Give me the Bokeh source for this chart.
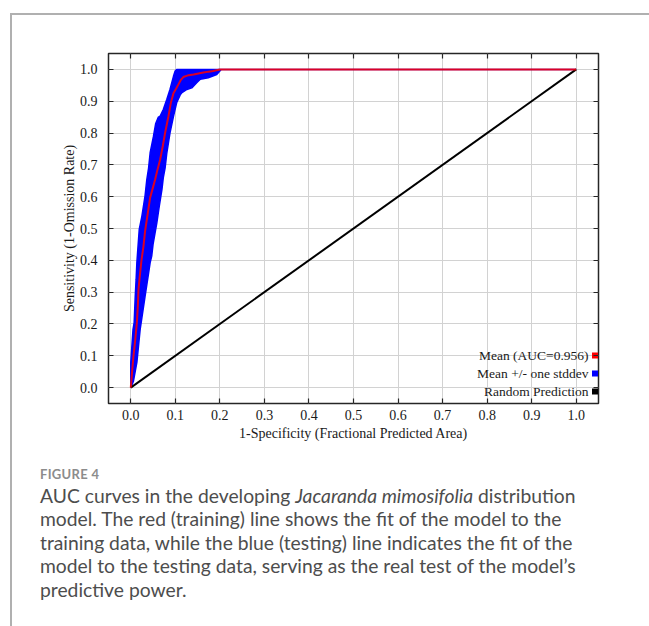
from bokeh.plotting import figure
from bokeh.models import (Range1d, FixedTicker, LinearAxis, Label, PrintfTickFormatter,
                          Spacer, Div)
from bokeh.layouts import column, row
from bokeh.embed import file_html
from bokeh.resources import INLINE

# ---------------- data ----------------
mean_fpr = [0.000, 0.003, 0.006, 0.010, 0.0137, 0.016, 0.0173, 0.0195, 0.024, 0.0285,
            0.032, 0.036, 0.040, 0.0435, 0.050, 0.0547, 0.060, 0.066, 0.072, 0.077,
            0.0846, 0.090, 0.0958, 0.102, 0.107, 0.112, 0.118, 0.130, 0.141, 0.152,
            0.163, 0.175, 0.185, 0.200, 1.000]
mean_tpr = [0.000, 0.050, 0.098, 0.150, 0.204, 0.260, 0.308, 0.340, 0.400, 0.444,
            0.490, 0.528, 0.565, 0.597, 0.630, 0.654, 0.685, 0.717, 0.760, 0.800,
            0.853, 0.895, 0.925, 0.940, 0.953, 0.966, 0.976, 0.982, 0.984, 0.987,
            0.990, 0.993, 0.995, 1.000, 1.000]

# left edge of the +/- one stddev band (upper sensitivity)
upper_fpr = [0.000, 0.000, 0.005, 0.0076, 0.010, 0.012, 0.0137, 0.019, 0.025, 0.032,
             0.036, 0.040, 0.0435, 0.051, 0.056, 0.062, 0.066, 0.073, 0.081, 0.088,
             0.096, 0.0996, 0.103, 0.200, 1.000]
upper_tpr = [0.000, 0.079, 0.182, 0.204, 0.286, 0.340, 0.393, 0.497, 0.539, 0.602,
             0.654, 0.690, 0.738, 0.790, 0.830, 0.850, 0.853, 0.874, 0.906, 0.937,
             0.979, 0.995, 1.000, 1.000, 1.000]
# right edge of the band (lower sensitivity)
lower_fpr = [0.000, 0.006, 0.0137, 0.021, 0.032, 0.040, 0.0435, 0.047, 0.050, 0.0585,
             0.064, 0.070, 0.073, 0.077, 0.081, 0.088, 0.096, 0.103, 0.111, 0.115,
             0.126, 0.137, 0.148, 0.156, 0.174, 0.193, 0.200, 0.203, 1.000]
lower_tpr = [0.000, 0.020, 0.079, 0.182, 0.286, 0.360, 0.393, 0.413, 0.450, 0.518,
             0.570, 0.623, 0.660, 0.690, 0.738, 0.800, 0.853, 0.895, 0.920, 0.927,
             0.937, 0.942, 0.958, 0.969, 0.974, 0.984, 0.995, 1.000, 1.000]

random_fpr = [0.0, 1.0]
random_tpr = [0.0, 1.0]

tick_values = [0.0, 0.1, 0.2, 0.3, 0.4, 0.5, 0.6, 0.7, 0.8, 0.9, 1.0]

legend_labels = ["Mean (AUC=0.956)", "Mean +/- one stddev", "Random Prediction"]
legend_colors = ["#ff0000", "#0000ff", "#000000"]

x_label = "1-Specificity (Fractional Predicted Area)"
y_label = "Sensitivity (1-Omission Rate)"

caption_title = "FIGURE 4"
caption_first = ["AUC curves in the developing", "Jacaranda mimosifolia", "distribution"]
caption_rest = [
    "model. The red (training) line shows the fit of the model to the",
    "training data, while the blue (testing) line indicates the fit of the",
    "model to the testing data, serving as the real test of the model\u2019s",
    "predictive power.",
]

# ---------------- layout constants (page pixels) ----------------
PAGE_W, PAGE_H = 649, 626
LINE_X, LINE_Y, LINE_T = 10, 13, 2          # grey page frame lines
FIG_X = LINE_X + LINE_T                      # 12
FIG_Y = LINE_Y + LINE_T                      # 15
FIG_W = PAGE_W - FIG_X                       # 637
PLOT_H = 442
CAP_H = PAGE_H - FIG_Y - PLOT_H              # 169
FRAME_L, FRAME_T, FRAME_W, FRAME_H = 108, 53, 490, 350
XR = (-0.05, 1.05)
YR = (-0.05, 1.05)

p = figure(frame_width=FRAME_W, frame_height=FRAME_H,
           x_range=Range1d(*XR), y_range=Range1d(*YR),
           min_border_left=FRAME_L - FIG_X, min_border_top=FRAME_T - FIG_Y,
           min_border_right=FIG_W - (FRAME_L - FIG_X) - FRAME_W,
           min_border_bottom=PLOT_H - (FRAME_T - FIG_Y) - FRAME_H,
           output_backend="svg", toolbar_location=None,
           background_fill_color="white", border_fill_color="white")
p.outline_line_color = "#262626"
p.outline_line_width = 1.5

top_axis = LinearAxis()
right_axis = LinearAxis()
p.add_layout(top_axis, "above")
p.add_layout(right_axis, "right")
bottom_axis = p.below[0]
left_axis = p.left[0]

for ax in [bottom_axis, left_axis, top_axis, right_axis]:
    ax.ticker = FixedTicker(ticks=tick_values)
    ax.formatter = PrintfTickFormatter(format="%.1f")
    ax.major_tick_in = 5
    ax.major_tick_out = 0
    ax.minor_tick_line_color = None
    ax.axis_line_color = None
    ax.major_tick_line_color = "#262626"
    ax.major_tick_line_width = 1.2
    ax.major_label_text_font = "Liberation Serif"
    ax.major_label_text_font_size = "14px"
    ax.major_label_text_color = "#1a1a1a"

top_axis.major_label_text_color = None
right_axis.major_label_text_color = None

bottom_axis.major_label_standoff = 6
left_axis.major_label_standoff = 11
bottom_axis.axis_label = x_label
left_axis.axis_label = y_label
for ax in [bottom_axis, left_axis]:
    ax.axis_label_text_font = "Liberation Serif"
    ax.axis_label_text_font_size = "14px"
    ax.axis_label_text_font_style = "normal"
    ax.axis_label_text_color = "#1a1a1a"
bottom_axis.axis_label_standoff = 3
left_axis.axis_label_standoff = 0

p.xgrid.ticker = FixedTicker(ticks=tick_values)
p.ygrid.ticker = FixedTicker(ticks=tick_values)
p.grid.grid_line_color = "#d2d2d2"
p.grid.grid_line_width = 1

# ---------------- glyphs ----------------
band_x = upper_fpr + lower_fpr[::-1]
band_y = upper_tpr + lower_tpr[::-1]
p.patch(band_x, band_y, fill_color="#0000ff", line_color="#0000ff", line_width=1.5)
p.line(random_fpr, random_tpr, line_color="#000000", line_width=2)
p.line(mean_fpr, mean_tpr, line_color="#ff0000", line_width=2, line_alpha=0.85)


def X(px):
    return XR[0] + (px - FRAME_L) * (XR[1] - XR[0]) / FRAME_W


def Y(py):
    return YR[1] - (py - FRAME_T) * (YR[1] - YR[0]) / FRAME_H


# legend (labels left of small squares, as in the reference)
leg_rows = [355, 373, 391]
p.scatter(x=[X(594.5)] * len(legend_labels), y=[Y(r) for r in leg_rows],
          marker="square", size=6, color=legend_colors, line_color=None)
for lab, r in zip(legend_labels, leg_rows):
    p.add_layout(Label(x=X(588), y=Y(r), text=lab, text_align="right",
                       text_baseline="middle", text_font="Liberation Serif",
                       text_font_size="13.5px", text_color="#1a1a1a"))

# ---------------- caption (HTML, for the italic species name) ----------------
CAP_TOP = FIG_Y + PLOT_H
CAP_LEFT = 40 - FIG_X
first_line = "{} <i>{}</i> {}".format(*caption_first)
body = "<br>".join([first_line] + caption_rest)
cap_html = (
    '<div style="position:relative;width:{w}px;height:{h}px;font-family:Lato,sans-serif;">'
    '<div style="position:absolute;left:{l}px;top:{t1}px;font-size:13px;line-height:13px;'
    'font-weight:700;letter-spacing:0.3px;color:#8c8c8c;white-space:nowrap;">{title}</div>'
    '<div style="position:absolute;left:{l}px;top:{t2}px;font-size:19.3px;line-height:23.5px;'
    'color:#4d4d4d;white-space:nowrap;">{body}</div>'
    '</div>'
).format(w=FIG_W, h=CAP_H, l=CAP_LEFT, t1=479 - 11.5 - CAP_TOP, t2=503 - 19.1 - CAP_TOP,
         title=caption_title, body=body)
cap = Div(text=cap_html, width=FIG_W, height=CAP_H, margin=0)

# ---------------- page frame lines ----------------
LINE_COLOR = "#b0b0b0"
top_line = Div(text="", width=PAGE_W - LINE_X, height=LINE_T, margin=0,
               styles={"background-color": LINE_COLOR})
left_line = Div(text="", width=LINE_T, height=PAGE_H - FIG_Y, margin=0,
                styles={"background-color": LINE_COLOR})

layout = column(
    Spacer(width=PAGE_W, height=LINE_Y, margin=0),
    row(Spacer(width=LINE_X, height=PAGE_H - LINE_Y, margin=0),
        column(top_line,
               row(left_line, column(p, cap, spacing=0), spacing=0),
               spacing=0),
        spacing=0),
    spacing=0)

open("out.html", "w").write(file_html(layout, INLINE))
